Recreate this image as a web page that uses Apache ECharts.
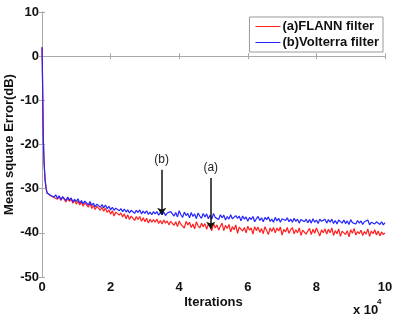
<!DOCTYPE html>
<html>
<head>
<meta charset="utf-8">
<script src="https://cdn.jsdelivr.net/npm/echarts@6/dist/echarts.min.js"></script>
<style>
  html, body { margin: 0; padding: 0; background: #fff; }
  #chart { width: 401px; height: 319px; }
</style>
</head>
<body>
<div id="chart"></div>
<script>
// iterations are in units of 10^4
var transientX = [0, 0.01, 0.02, 0.03, 0.04, 0.06, 0.09, 0.12, 0.15, 0.2, 0.25]
var transientRed = [2, -2, -8, -14, -19, -24, -28, -30, -31, -31.3, -31.6]
var transientBlue = [2, -2, -8, -14, -19, -24, -28, -30, -31, -31.2, -31.5]

// steady part sampled every 0.05 from 0.3 to 10
var steadyStart = 0.3
var steadyStep = 0.05

var flannMse = [
  -31.3, -32.0, -31.6, -32.4, -31.8, -32.7, -31.9, -32.3, -33.0, -32.1,
  -32.9, -32.3, -33.3, -32.6, -33.5, -32.8, -33.7, -33.0, -34.0, -33.2,
  -33.5, -34.2, -33.3, -34.5, -33.8, -34.7, -34.0, -33.7, -34.9, -34.2,
  -35.1, -34.4, -35.4, -34.8, -35.8, -35.0, -36.2, -35.3, -35.0, -36.0,
  -35.5, -36.4, -35.7, -36.8, -35.9, -37.0, -36.2, -36.5, -37.2, -36.3,
  -37.0, -36.3, -37.4, -36.6, -37.5, -36.7, -37.8, -36.9, -37.6, -37.0,
  -37.6, -36.9, -37.9, -37.2, -38.0, -37.1, -37.8, -37.3, -38.2, -37.4,
  -37.0, -38.3, -37.5, -38.6, -37.3, -38.1, -37.8, -38.9, -37.4, -38.2,
  -37.6, -38.8, -38.0, -39.1, -37.5, -38.4, -38.9, -37.8, -38.6, -37.9,
  -39.2, -38.0, -38.7, -39.5, -37.9, -38.9, -38.2, -39.4, -38.5, -37.8,
  -39.5, -38.3, -39.0, -38.1, -39.8, -38.6, -39.3, -38.2, -40.1, -38.7,
  -38.4, -39.6, -38.8, -40.0, -38.5, -39.4, -38.9, -40.3, -38.6, -39.5,
  -38.7, -39.9, -39.0, -40.2, -38.6, -39.5, -40.4, -38.9, -39.7, -38.8,
  -40.0, -38.9, -39.6, -38.7, -40.5, -39.2, -39.8, -38.8, -40.1, -39.3,
  -38.8, -40.2, -39.3, -40.0, -38.9, -40.6, -39.4, -39.0, -40.3, -39.6,
  -39.0, -40.4, -39.2, -40.1, -38.9, -39.8, -40.7, -39.3, -40.0, -39.1,
  -40.3, -39.2, -40.0, -38.9, -40.6, -39.5, -40.2, -39.1, -40.8, -39.6,
  -39.2, -40.4, -39.5, -40.9, -39.3, -40.1, -39.0, -40.5, -39.7, -40.2,
  -39.4, -40.6, -39.7, -40.3, -39.1, -40.8, -39.6, -40.2, -39.3, -40.5,
  -39.6, -40.7, -39.8, -40.4, -40.0
]

var volterraMse = [
  -31.2, -31.9, -31.4, -32.2, -31.6, -32.5, -31.8, -32.0, -32.7, -31.9,
  -32.6, -32.1, -33.0, -32.4, -32.9, -32.3, -33.3, -32.7, -33.4, -32.8,
  -33.1, -33.7, -32.9, -33.8, -33.3, -34.1, -33.5, -33.2, -34.2, -33.6,
  -34.3, -33.7, -34.5, -34.0, -34.8, -34.2, -34.9, -34.4, -34.1, -35.0,
  -34.5, -35.2, -34.6, -35.3, -34.8, -35.5, -34.9, -35.1, -35.6, -34.9,
  -35.4, -34.8, -35.7, -35.1, -35.6, -35.0, -35.8, -35.3, -35.9, -35.2,
  -35.7, -35.2, -36.0, -35.4, -35.9, -35.3, -36.1, -35.5, -35.8, -35.2,
  -35.1, -36.2, -35.4, -36.4, -35.0, -35.9, -36.5, -35.3, -36.1, -35.6,
  -36.6, -35.4, -36.3, -35.7, -36.8, -35.5, -36.2, -36.7, -35.6, -36.4,
  -35.7, -36.8, -36.0, -36.9, -35.6, -36.5, -36.1, -37.0, -35.9, -36.6,
  -36.0, -37.1, -36.3, -36.9, -35.9, -36.8, -37.2, -36.1, -36.7, -36.2,
  -37.3, -36.2, -36.9, -36.4, -37.4, -36.5, -37.0, -36.3, -37.5, -36.8,
  -36.3, -37.2, -36.6, -37.5, -36.5, -37.0, -36.4, -37.4, -36.9, -37.6,
  -36.5, -37.3, -36.7, -37.6, -36.8, -36.4, -37.2, -36.6, -37.5, -36.9,
  -37.6, -36.7, -37.4, -36.9, -37.8, -37.0, -36.6, -37.5, -36.9, -37.7,
  -37.0, -37.8, -36.8, -37.6, -37.1, -37.9, -36.9, -37.4, -37.7, -36.9,
  -37.8, -37.0, -37.6, -36.9, -37.9, -37.2, -38.0, -37.1, -37.5, -37.8,
  -37.1, -37.9, -37.3, -38.1, -37.0, -37.7, -37.4, -38.0, -37.2, -37.8,
  -37.3, -38.1, -37.5, -37.9, -37.1, -38.2, -37.6, -37.2, -38.0, -37.5,
  -37.2, -38.1, -37.5, -38.2, -37.7
]

var seriesNames = ['(a)FLANN filter', '(b)Volterra filter']

// arrow annotations: [label, x, yStart, yEnd]
var arrowB = ['(b)', 3.49, -25.7, -35.9]
var arrowA = ['(a)', 4.92, -27.6, -39.1]

function buildPoints(tx, ty, steady) {
  var pts = []
  for (var i = 0; i < tx.length; i++) pts.push([tx[i], ty[i]])
  for (var j = 0; j < steady.length; j++) {
    pts.push([+(steadyStart + j * steadyStep).toFixed(2), steady[j]])
  }
  return pts
}

function arrowLine(a) {
  return [
    { coord: [a[1], a[2]], label: { formatter: a[0] } },
    { coord: [a[1], a[3]] }
  ]
}

var font = '"Liberation Sans", Arial, sans-serif'
var axisGray = '#a8a8a8'
var boldText = { fontFamily: font, fontWeight: 'bold', fontSize: 13, color: '#111' }

var chart = echarts.init(document.getElementById('chart'))
chart.setOption({
  backgroundColor: '#fff',
  animation: false,
  textStyle: { fontFamily: font },
  grid: { left: 42, right: 16, top: 12, bottom: 42, containLabel: false, outerBoundsMode: 'none' },
  legend: {
    data: seriesNames,
    orient: 'vertical',
    right: 18,
    top: 17,
    padding: [3, 4, 3, 6],
    itemGap: 3,
    itemWidth: 25,
    itemHeight: 1,
    icon: 'rect',
    backgroundColor: '#fff',
    borderColor: '#999',
    borderWidth: 1,
    textStyle: Object.assign({}, boldText, { padding: [0, 0, 0, -3] })
  },
  xAxis: [
    {
      type: 'value',
      min: 0,
      max: 10,
      interval: 2,
      name: 'Iterations',
      nameLocation: 'middle',
      nameGap: 19,
      nameMoveOverlap: false,
      nameTextStyle: boldText,
      axisLine: { lineStyle: { color: axisGray } },
      axisTick: { inside: true, length: 3, lineStyle: { color: axisGray } },
      axisLabel: Object.assign({}, boldText, { margin: 4 }),
      splitLine: { show: false }
    },
    {
      type: 'value',
      position: 'top',
      min: 0,
      max: 10,
      interval: 2,
      axisLine: { show: true, lineStyle: { color: axisGray } },
      axisTick: { inside: true, length: 3, lineStyle: { color: axisGray } },
      axisLabel: { show: false },
      splitLine: { show: false }
    }
  ],
  yAxis: [
    {
      type: 'value',
      min: -50,
      max: 10,
      interval: 10,
      name: 'Mean square Error(dB)',
      nameLocation: 'middle',
      nameGap: 26,
      nameMoveOverlap: false,
      nameTextStyle: boldText,
      axisLine: { show: true, lineStyle: { color: axisGray } },
      axisTick: { show: true, inside: true, length: 3, lineStyle: { color: axisGray } },
      axisLabel: Object.assign({}, boldText, { margin: 3 }),
      splitLine: { show: false }
    },
    {
      type: 'value',
      position: 'right',
      min: -50,
      max: 10,
      interval: 10,
      axisLine: { show: true, lineStyle: { color: axisGray } },
      axisTick: { show: true, inside: true, length: 3, lineStyle: { color: axisGray } },
      axisLabel: { show: false },
      splitLine: { show: false }
    }
  ],
  graphic: [
    { type: 'text', left: 353, top: 304, style: { text: 'x 10', font: 'bold 13px ' + font, fill: '#111' } },
    { type: 'text', left: 377, top: 298, style: { text: '4', font: 'bold 8px ' + font, fill: '#111' } }
  ],
  series: [
    {
      name: seriesNames[0],
      type: 'line',
      data: buildPoints(transientX, transientRed, flannMse),
      symbol: 'none',
      lineStyle: { color: '#ff1f1f', width: 1.2 },
      itemStyle: { color: '#ff1f1f' },
      z: 2
    },
    {
      name: seriesNames[1],
      type: 'line',
      data: buildPoints(transientX, transientBlue, volterraMse),
      symbol: 'none',
      lineStyle: { color: '#2424ff', width: 1.2 },
      itemStyle: { color: '#2424ff' },
      z: 3,
      markLine: {
        silent: true,
        symbol: ['none', 'arrow'],
        symbolSize: 7,
        lineStyle: { color: '#111', width: 1.5, type: 'solid' },
        label: { show: true, position: 'start', distance: 4, fontFamily: font, fontSize: 12, color: '#222' },
        data: [arrowLine(arrowB), arrowLine(arrowA)]
      }
    }
  ]
})
</script>
</body>
</html>
